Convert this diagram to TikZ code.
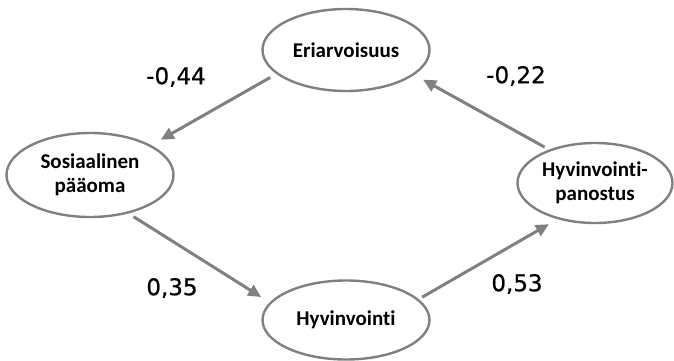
\documentclass[tikz,border=0pt]{standalone}
\usepackage{fontspec}
\setmainfont{Carlito}[Ligatures=NoCommon]
\newfontfamily\numfont{DejaVu Sans}[FakeBold=0.6]
\usetikzlibrary{shapes.geometric,arrows.meta}
\definecolor{linegray}{RGB}{128,128,128}
\tikzset{
  ell/.style={ellipse, draw=linegray, line width=2.4pt, fill=white, inner sep=0pt,
    align=center, font=\bfseries\fontsize{21}{24}\selectfont},
  conn/.style={draw=linegray, line width=3pt, -{Triangle[length=13pt,width=12pt]}},
  num/.style={inner sep=0pt, font=\numfont\fontsize{23}{26}\selectfont},
}
\begin{document}
\begin{tikzpicture}[x=1pt,y=-1pt]
\useasboundingbox (0,0) rectangle (674,361);
\node[ell, minimum width=167pt, minimum height=82pt] (E) at (346,50) {Eriarvoisuus};
\node[ell, minimum width=167pt, minimum height=84pt] (S) at (90,175) {Sosiaalinen\\pääoma};
\node[ell, minimum width=155pt, minimum height=80pt] (P) at (595,183) {Hyvinvointi-\\panostus};
\node[ell, minimum width=167pt, minimum height=79pt] (H) at (346,320) {Hyvinvointi};

\draw[conn, shorten <=7pt, shorten >=11pt] (E.199) -- (S.26);
\draw[conn, shorten <=6pt, shorten >=10pt] (S.315) -- (H.167.5);
\draw[conn, shorten <=4pt, shorten >=10pt] (H.16.6) -- (P.224);
\draw[conn, shorten <=5pt, shorten >=10pt] (P.144) -- (E.340);

\node[num] (l1) at (176,77) {-0,44};
\node[num] (l2) at (516,76) {-0,22};
\node[num] (l3) at (172,288) {0,35};
\node[num] (l4) at (517,284) {0,53};
\end{tikzpicture}
\end{document}
